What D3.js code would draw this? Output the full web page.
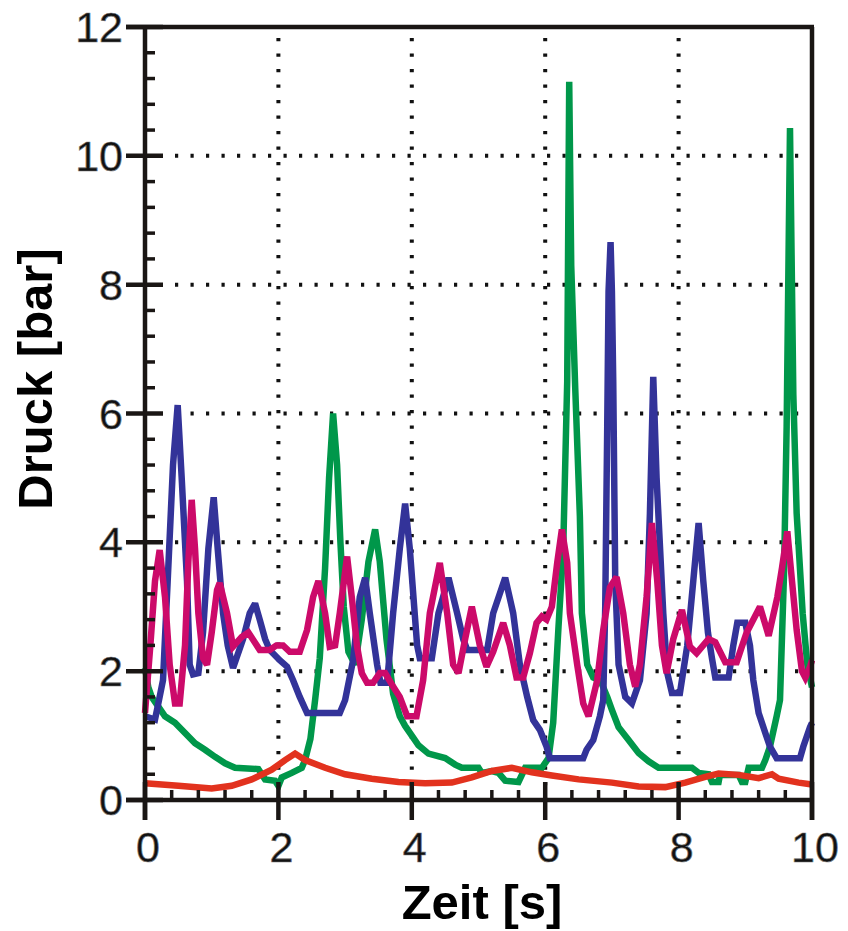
<!DOCTYPE html>
<html><head><meta charset="utf-8">
<script src="https://cdn.jsdelivr.net/npm/d3@7/dist/d3.min.js"></script>
<style>body{margin:0;background:#fff}svg{display:block}</style>
</head><body>
<script>
const xTickValues = [0, 2, 4, 6, 8, 10];
const yTickValues = [0, 2, 4, 6, 8, 10, 12];
const gridX = [2, 4, 6, 8];
const gridY = [2, 4, 6, 8, 10];
const xTitle = "Zeit [s]";
const yTitle = "Druck [bar]";

const redData = [[0,0.26],[0.5,0.22],[1.0,0.18],[1.3,0.22],[1.6,0.32],[1.9,0.47],[2.1,0.62],[2.25,0.72],[2.4,0.62],[2.7,0.5],[3.0,0.4],[3.4,0.33],[3.8,0.28],[4.2,0.26],[4.6,0.27],[4.9,0.35],[5.2,0.45],[5.5,0.5],[5.8,0.43],[6.1,0.38],[6.5,0.32],[7.0,0.27],[7.4,0.21],[7.8,0.2],[8.1,0.27],[8.4,0.36],[8.6,0.41],[8.9,0.39],[9.2,0.34],[9.4,0.4],[9.5,0.33],[9.8,0.27],[10,0.24]];

const greenData = [[0,2.05],[0.05,1.75],[0.1,1.6],[0.2,1.45],[0.3,1.3],[0.45,1.2],[0.6,1.04],[0.75,0.88],[0.9,0.78],[1.05,0.67],[1.2,0.57],[1.35,0.5],[1.7,0.48],[1.8,0.32],[1.95,0.3],[2.0,0.22],[2.05,0.35],[2.2,0.42],[2.35,0.5],[2.4,0.62],[2.48,0.95],[2.55,1.55],[2.62,2.2],[2.7,3.6],[2.76,5.0],[2.82,6.0],[2.88,5.2],[2.93,4.0],[2.98,3.0],[3.05,2.3],[3.15,2.1],[3.25,2.8],[3.35,3.7],[3.45,4.2],[3.52,3.7],[3.62,2.5],[3.72,1.65],[3.82,1.3],[3.9,1.15],[4.0,1.0],[4.1,0.85],[4.25,0.72],[4.5,0.65],[4.65,0.55],[4.75,0.5],[5.0,0.5],[5.05,0.42],[5.2,0.45],[5.3,0.42],[5.4,0.3],[5.6,0.28],[5.7,0.5],[5.95,0.5],[6.05,0.65],[6.12,1.2],[6.2,2.7],[6.27,3.9],[6.33,6.5],[6.36,11.15],[6.39,8.3],[6.45,6.4],[6.52,4.4],[6.55,2.9],[6.63,2.1],[6.72,1.9],[6.83,1.85],[6.93,1.6],[7.0,1.4],[7.1,1.13],[7.25,0.93],[7.4,0.73],[7.55,0.6],[7.7,0.5],[8.2,0.5],[8.3,0.42],[8.45,0.4],[8.5,0.28],[8.6,0.28],[8.62,0.39],[8.9,0.39],[8.95,0.28],[9.0,0.28],[9.05,0.5],[9.25,0.5],[9.3,0.62],[9.37,0.83],[9.47,1.3],[9.52,1.55],[9.58,3.5],[9.62,5.8],[9.67,10.43],[9.72,6.3],[9.77,4.45],[9.86,2.9],[9.93,2.1],[10,1.75]];

const blueData = [[0,1.3],[0.15,1.25],[0.2,1.5],[0.27,1.86],[0.34,3.4],[0.42,5.2],[0.49,6.13],[0.55,5.0],[0.63,3.4],[0.67,2.1],[0.72,1.95],[0.8,1.97],[0.87,2.6],[0.95,3.9],[1.03,4.7],[1.09,3.9],[1.17,2.9],[1.24,2.4],[1.32,2.05],[1.47,2.5],[1.57,2.9],[1.65,3.05],[1.72,2.8],[1.8,2.5],[1.87,2.33],[2.02,2.17],[2.13,2.07],[2.22,1.86],[2.32,1.6],[2.43,1.35],[2.92,1.35],[3.0,1.55],[3.12,2.17],[3.22,3.15],[3.3,3.45],[3.37,2.9],[3.48,2.1],[3.53,1.82],[3.63,1.82],[3.72,2.9],[3.82,3.9],[3.9,4.6],[3.97,3.9],[4.08,2.4],[4.12,2.2],[4.3,2.2],[4.4,2.9],[4.55,3.45],[4.68,2.9],[4.77,2.5],[4.83,2.33],[5.13,2.33],[5.22,2.9],[5.4,3.45],[5.52,2.9],[5.62,2.1],[5.73,1.6],[5.82,1.24],[5.92,1.09],[6.02,0.83],[6.07,0.65],[6.57,0.65],[6.62,0.78],[6.72,0.93],[6.82,1.3],[6.87,1.55],[6.9,3.0],[6.93,5.8],[6.95,7.9],[6.98,8.66],[7.0,7.9],[7.02,6.5],[7.05,3.4],[7.1,2.1],[7.2,1.6],[7.3,1.5],[7.42,1.86],[7.52,2.9],[7.57,4.45],[7.62,6.57],[7.67,5.0],[7.77,2.9],[7.83,1.97],[7.9,1.66],[8.02,1.66],[8.13,2.4],[8.22,3.4],[8.3,4.3],[8.37,3.4],[8.44,2.6],[8.5,2.2],[8.55,1.9],[8.75,1.9],[8.82,2.4],[8.88,2.75],[9.0,2.75],[9.07,2.4],[9.12,1.86],[9.2,1.35],[9.3,1.04],[9.37,0.83],[9.47,0.65],[9.82,0.65],[9.87,0.83],[9.97,1.13],[10,1.2]];

const magentaData = [[0,1.35],[0.08,2.4],[0.15,3.4],[0.22,3.88],[0.3,3.15],[0.37,2.1],[0.45,1.5],[0.52,1.5],[0.6,2.4],[0.65,3.7],[0.7,4.66],[0.75,3.9],[0.8,2.9],[0.87,2.2],[0.93,2.1],[1.0,2.6],[1.08,3.26],[1.12,3.37],[1.23,2.9],[1.32,2.38],[1.38,2.45],[1.45,2.53],[1.55,2.6],[1.65,2.44],[1.72,2.33],[1.87,2.33],[1.97,2.4],[2.07,2.4],[2.17,2.3],[2.32,2.3],[2.43,2.64],[2.52,3.15],[2.6,3.4],[2.7,2.9],[2.77,2.38],[2.85,2.4],[2.92,2.9],[3.03,3.78],[3.1,3.15],[3.18,2.38],[3.25,1.97],[3.33,1.82],[3.42,1.82],[3.52,1.97],[3.6,1.97],[3.72,1.76],[3.82,1.6],[3.93,1.3],[4.07,1.3],[4.17,1.86],[4.27,2.9],[4.42,3.68],[4.53,2.9],[4.62,2.1],[4.7,1.97],[4.8,2.5],[4.9,3.0],[5.02,2.4],[5.12,2.07],[5.22,2.3],[5.37,2.75],[5.47,2.4],[5.57,1.9],[5.67,1.9],[5.77,2.28],[5.87,2.75],[5.95,2.85],[6.02,2.8],[6.1,3.0],[6.18,3.68],[6.25,4.2],[6.33,3.68],[6.37,2.9],[6.48,2.1],[6.57,1.5],[6.65,1.3],[6.78,1.86],[6.87,2.64],[6.97,3.3],[7.07,3.46],[7.17,2.9],[7.27,2.1],[7.35,1.76],[7.42,2.1],[7.52,3.15],[7.6,4.3],[7.68,3.4],[7.75,2.4],[7.82,1.97],[7.92,2.5],[8.05,2.95],[8.17,2.38],[8.27,2.28],[8.45,2.5],[8.55,2.45],[8.7,2.14],[8.87,2.14],[9.02,2.6],[9.22,3.0],[9.35,2.55],[9.48,3.15],[9.55,3.6],[9.63,4.17],[9.7,3.4],[9.77,2.64],[9.85,2.0],[9.9,1.9],[9.97,2.07],[10,2.17]];

const W = 848, H = 931;
const L = 145, R = 812, T = 27, B = 800;
const x = d3.scaleLinear().domain([0, 10]).range([L, R]);
const y = d3.scaleLinear().domain([0, 12]).range([B, T]);

const svg = d3.select("body").append("svg").attr("width", W).attr("height", H);

// grid
const grid = svg.append("g").attr("stroke", "#111").attr("stroke-width", 4).attr("stroke-dasharray", "3.2,12.3");
grid.selectAll(".gx").data(gridX).enter().append("line")
  .attr("x1", d => x(d)).attr("x2", d => x(d)).attr("y1", T + 11).attr("y2", B);
grid.selectAll(".gy").data(gridY).enter().append("line")
  .attr("y1", d => y(d)).attr("y2", d => y(d)).attr("x1", L + 30).attr("x2", R);

// series
const line = d3.line().x(d => x(d[0])).y(d => y(d[1])).curve(d3.curveLinear);
const series = [
  {data: greenData, color: "#00974a"},
  {data: redData, color: "#e2321e"},
  {data: blueData, color: "#333399"},
  {data: magentaData, color: "#cc0a6a"}
];
svg.append("g").selectAll("path").data(series).enter().append("path")
  .attr("d", d => line(d.data)).attr("fill", "none")
  .attr("stroke", d => d.color).attr("stroke-width", 6.5)
  .attr("stroke-linejoin", "miter").attr("stroke-miterlimit", 2.5);

// frame & axes
const ax = svg.append("g").attr("stroke", "#1a1614").attr("stroke-width", 4.5).attr("fill", "none");
ax.append("line").attr("x1", L).attr("x2", L).attr("y1", T).attr("y2", B + 20);
ax.append("line").attr("x1", L - 19).attr("x2", R + 2).attr("y1", B).attr("y2", B);
ax.append("line").attr("x1", L - 19).attr("x2", R + 2).attr("y1", T).attr("y2", T);
ax.append("line").attr("x1", R).attr("x2", R).attr("y1", T).attr("y2", B + 20);

// major ticks
ax.selectAll(".mx").data(xTickValues).enter().append("line")
  .attr("x1", d => x(d)).attr("x2", d => x(d)).attr("y1", B - 18).attr("y2", B + 20);
ax.selectAll(".my").data(yTickValues).enter().append("line")
  .attr("y1", d => y(d)).attr("y2", d => y(d)).attr("x1", L - 19).attr("x2", L + 18);

// minor ticks
const minorX = d3.range(0, 10.001, 0.4).filter(v => Math.abs(v / 2 - Math.round(v / 2)) > 0.01);
const minorY = d3.range(0, 12.001, 0.4).filter(v => Math.abs(v / 2 - Math.round(v / 2)) > 0.01);
ax.selectAll(".nx").data(minorX).enter().append("line").attr("stroke-width", 3.5)
  .attr("x1", d => x(d)).attr("x2", d => x(d)).attr("y1", B - 10).attr("y2", B);
ax.selectAll(".ny").data(minorY).enter().append("line").attr("stroke-width", 3.5)
  .attr("y1", d => y(d)).attr("y2", d => y(d)).attr("x1", L).attr("x2", L + 10);

// tick labels
const lab = svg.append("g").attr("font-family", "'Liberation Sans', Arial, sans-serif")
  .attr("font-size", 43).attr("fill", "#111").attr("stroke", "#777").attr("stroke-width", 0.7);
lab.selectAll(".lx").data(xTickValues).enter().append("text")
  .attr("x", d => x(d) + 3).attr("y", 862).attr("text-anchor", "middle").text(d => d);
lab.selectAll(".ly").data(yTickValues).enter().append("text")
  .attr("x", 123).attr("y", d => y(d) + 15).attr("text-anchor", "end").text(d => d);

// titles
svg.append("text").attr("x", 482).attr("y", 919).attr("text-anchor", "middle")
  .attr("font-family", "'Liberation Sans', Arial, sans-serif").attr("font-weight", "bold")
  .attr("font-size", 49).attr("fill", "#000").text(xTitle);
svg.append("text").attr("transform", "translate(52,379) rotate(-90)").attr("text-anchor", "middle")
  .attr("font-family", "'Liberation Sans', Arial, sans-serif").attr("font-weight", "bold")
  .attr("font-size", 49).attr("fill", "#000").text(yTitle);
</script>
</body></html>
